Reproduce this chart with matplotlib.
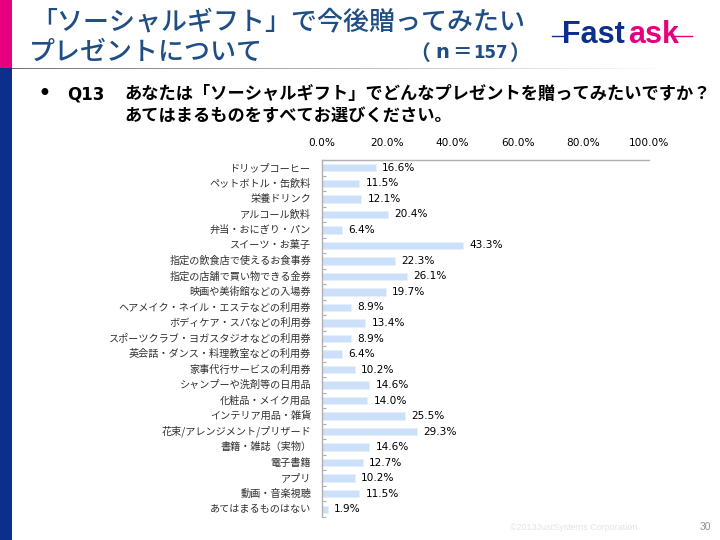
#!/usr/bin/env python3

import matplotlib
matplotlib.use("Agg")
import matplotlib.pyplot as plt
import numpy as np
from matplotlib.patches import Rectangle

plt.rcParams['font.family'] = ['Noto Sans CJK JP', 'DejaVu Sans']

categories = ["ドリップコーヒー", "ペットボトル・缶飲料", "栄養ドリンク", "アルコール飲料",
              "弁当・おにぎり・パン", "スイーツ・お菓子", "指定の飲食店で使えるお食事券",
              "指定の店舗で買い物できる金券", "映画や美術館などの入場券",
              "ヘアメイク・ネイル・エステなどの利用券", "ボディケア・スパなどの利用券",
              "スポーツクラブ・ヨガスタジオなどの利用券", "英会話・ダンス・料理教室などの利用券",
              "家事代行サービスの利用券", "シャンプーや洗剤等の日用品", "化粧品・メイク用品",
              "インテリア用品・雑貨", "花束/アレンジメント/プリザード", "書籍・雑誌（実物）",
              "電子書籍", "アプリ", "動画・音楽視聴", "あてはまるものはない"]
values = [16.6, 11.5, 12.1, 20.4, 6.4, 43.3, 22.3, 26.1, 19.7, 8.9, 13.4, 8.9,
          6.4, 10.2, 14.6, 14.0, 25.5, 29.3, 14.6, 12.7, 10.2, 11.5, 1.9]
xticks = [0, 20, 40, 60, 80, 100]

W, H = 720, 540
fig = plt.figure(figsize=(W / 100, H / 100), dpi=100)

# page furniture in pixel coords
bg = fig.add_axes([0, 0, 1, 1])
bg.axis("off")
bg.add_patch(Rectangle((0, 0), 12, 68, color="#E6007E", lw=0))
bg.add_patch(Rectangle((0, 68), 12, 472, color="#0B2F8A", lw=0))
bg.imshow(np.linspace(0.45, 1.0, 200).reshape(1, -1), extent=(12, 680, 69, 68), aspect="auto",
          cmap="gray", vmin=0, vmax=1)
bg.set_xlim(0, W)
bg.set_ylim(H, 0)

title_col = "#1F4E84"
bg.text(31, 22, "「ソーシャルギフト」で今後贈ってみたい", fontsize=18.7, color=title_col,
        weight="medium", va="center", ha="left")
bg.text(29, 52, "プレゼントについて", fontsize=18.7, color=title_col, weight="medium",
        va="center", ha="left")
bg.text(409, 53, "（", fontsize=15, color=title_col, weight="bold", va="center", ha="left")
bg.text(435, 53, "n", fontsize=14, color=title_col, weight="bold", va="center", ha="left",
        family="DejaVu Sans")
bg.text(452, 53, "＝", fontsize=14, color=title_col, weight="bold", va="center", ha="left")
bg.text(473, 53, "157", fontsize=12, color=title_col, weight="bold", va="center", ha="left",
        family="DejaVu Sans")
bg.text(509, 53, "）", fontsize=15, color=title_col, weight="bold", va="center", ha="left")

# logo
bg.plot([552, 566], [36, 36], color="#0B2F8A", lw=1)
bg.plot([672, 692], [36, 36], color="#E6007E", lw=1)
bg.text(562, 35, "Fast", fontsize=22, color="#0B2F8A", weight="bold",
        family="Liberation Sans", va="center", ha="left")
bg.text(628, 35, "ask", fontsize=22, color="#E6007E", weight="bold",
        family="Liberation Sans", va="center", ha="left")

bg.text(44, 94, "•", fontsize=17, color="black", va="center", ha="center",
        family="DejaVu Sans")
bg.text(67, 94, "Q13", fontsize=12, color="black", weight="bold", va="center", ha="left",
        family="DejaVu Sans")
bg.text(124, 94, "あなたは「ソーシャルギフト」でどんなプレゼントを贈ってみたいですか？",
        fontsize=12.4, color="black", weight="bold", va="center", ha="left")
bg.text(124, 116, "あてはまるものをすべてお選びください。", fontsize=12.4, color="black",
        weight="bold", va="center", ha="left")

bg.text(510, 528, "©2013JustSystems Corporation", fontsize=6.5, color="#E4E4E4",
        va="center", ha="left", family="Liberation Sans")
bg.text(705, 527, "30", fontsize=7.5, color="#909090", va="center", ha="center",
        family="Liberation Sans")

# bar chart
x0, x1, y0, y1 = 321.5, 649, 160, 517
ax = fig.add_axes([x0 / W, 1 - y1 / H, (x1 - x0) / W, (y1 - y0) / H])
ax.patch.set_alpha(0)
pos = list(range(len(categories)))
ax.barh(pos, values, height=0.48, color="#CCE0FA", edgecolor="#E6F0FD", linewidth=0.6)
ax.set_xlim(0, 100)
ax.set_ylim(len(categories) - 0.5, -0.5)
ax.xaxis.tick_top()
ax.set_xticks(xticks)
ax.set_xticklabels([f"{t:.1f}%" for t in xticks], fontsize=7.6, family="DejaVu Sans")
ax.tick_params(axis="x", length=0, pad=8.5)
ax.set_yticks([p - 0.5 for p in pos] + [len(pos) - 0.5])
ax.set_yticklabels([])
ax.tick_params(axis="y", direction="in", length=3, color="#B0B0B0", width=0.8)
for p, c in zip(pos, categories):
    ax.annotate(c, (0, p), xytext=(-7.5, 0), textcoords="offset points", ha="right", va="center",
                fontsize=7.3, color="#303030")
for p, v in zip(pos, values):
    ax.annotate(f"{v:.1f}%", (v, p), xytext=(4.5, 0), textcoords="offset points", ha="left",
                va="center", fontsize=7.6, family="DejaVu Sans", color="black")
for s in ["right", "bottom"]:
    ax.spines[s].set_visible(False)
for s in ["top", "left"]:
    ax.spines[s].set_color("#B0B0B0")
    ax.spines[s].set_linewidth(1)

plt.savefig("out.png", dpi=100, format="png")
